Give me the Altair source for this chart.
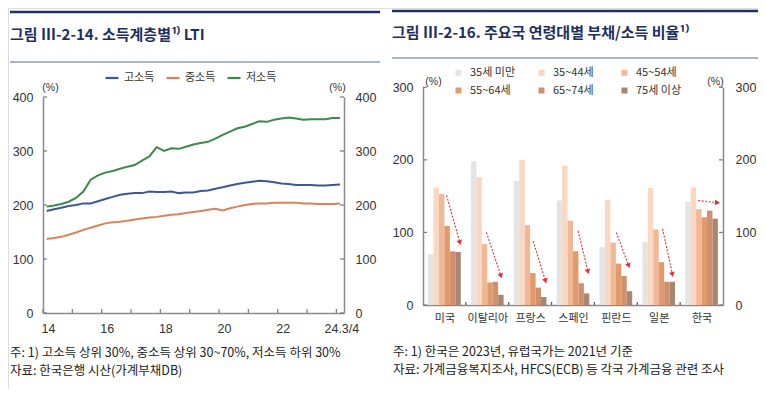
import math
import altair as alt
import pandas as pd

FONT = "Noto Sans CJK KR"
NUMFONT = "Liberation Sans"

# ---------------- left panel: LTI by income class ----------------
quarters = [2014.125 + 0.25 * i for i in range(41)]
high = [189, 192, 195, 198, 200, 203, 203, 207, 211, 215, 219, 221, 222, 222, 225, 224,
        224, 225, 222, 223, 223, 226, 227, 230, 233, 236, 239, 241, 243, 245, 244, 242,
        240, 239, 237, 237, 237, 236, 236, 237, 238]
mid = [137, 139, 141, 145, 149, 154, 158, 162, 166, 168, 169, 171, 173, 175, 177, 178,
       180, 182, 183, 185, 187, 189, 191, 193, 190, 194, 197, 200, 202, 203, 203, 204,
       204, 204, 204, 203, 203, 202, 202, 202, 203]
low = [197, 199, 202, 206, 213, 225, 247, 255, 260, 263, 267, 271, 274, 282, 290, 307,
       300, 305, 304, 308, 312, 315, 317, 323, 330, 336, 342, 345, 350, 355, 354, 358,
       360, 362, 360, 358, 359, 359, 359, 361, 361]
series_names = ["고소득", "중소득", "저소득"]
series_colors = ["#3c5895", "#d8845d", "#3b8a4c"]
year_ticks = list(range(2014, 2025))
year_labels = [2014, 2016, 2018, 2020, 2022, 2024]
left_y_ticks = [0, 100, 200, 300, 400]

# ---------------- right panel: debt/income by age ----------------
countries = ["미국", "이탈리아", "프랑스", "스페인", "핀란드", "일본", "한국"]
ages = ["35세 미만", "35~44세", "45~54세", "55~64세", "65~74세", "75세 이상"]
age_colors = ["#e4e4e4", "#f9d7c0", "#efb896", "#e39a6a", "#cf9070", "#a88670"]
ratios = [
    [70, 162, 153, 109, 74, 73],
    [198, 176, 84, 31, 32, 14],
    [171, 200, 110, 44, 24, 11],
    [144, 192, 116, 74, 30, 16],
    [80, 145, 86, 57, 40, 19],
    [87, 161, 104, 59, 32, 32],
    [142, 162, 132, 121, 130, 119],
]
right_y_ticks = [0, 100, 200, 300]
arrow_x0 = [0.55, 1.48, 2.57, 3.62, 4.51, 5.59, 6.42]
arrow_y0 = [151, 100, 88, 102, 100, 105, 144]
arrow_x1 = [0.86, 1.82, 2.86, 3.85, 4.80, 5.82, 6.87]
arrow_y1 = [86, 40, 33, 46, 54, 42, 141]

# ---------------- geometry (pixels inside the view) ----------------
W, H = 750, 381
L_X = [35, 336]
L_Y = [305, 89]
R_X = [415, 715]
R_Y = [297, 79.3]
L_XDOM = [2014, 2024.26]
L_YDOM = [0, 400]
R_XDOM = [0, 7]
R_YDOM = [0, 300]
TICK_PX = 4

AX = dict(tickSize=0, grid=False, domainColor="#8a8a8a", domainWidth=1.5,
          labelColor="#333333", labelFont=NUMFONT, labelFontSize=12.5,
          titleFont=NUMFONT, titleFontSize=10.5, titleColor="#333333",
          titleFontWeight="normal", titleAngle=0, titleAlign="center",
          titleBaseline="middle")
TICK_COLOR = "#7a7a7a"


def sc(dom, rng):
    return alt.Scale(domain=dom, range=rng, nice=False, zero=False)


def span(dom, rng, px):
    """data units that correspond to px pixels on a linear scale"""
    return (dom[1] - dom[0]) * px / abs(rng[1] - rng[0])


# ---------- left panel ----------
line_df = pd.DataFrame({
    "t": quarters * 3,
    "v": high + mid + low,
    "g": [series_names[0]] * 41 + [series_names[1]] * 41 + [series_names[2]] * 41,
})

lines = alt.Chart(line_df).mark_line(strokeWidth=2).encode(
    x=alt.X("t:Q", scale=sc(L_XDOM, L_X), axis=None),
    y=alt.Y("v:Q", scale=sc(L_YDOM, L_Y), axis=alt.Axis(
        orient="left", offset=-L_X[0], values=left_y_ticks, labelPadding=10,
        title="(%)", titleX=7, titleY=L_Y[1] - 10, **AX)),
    color=alt.Color("g:N", scale=alt.Scale(domain=series_names, range=series_colors),
                    legend=alt.Legend(orient="none", legendX=96, legendY=62,
                                      direction="horizontal", symbolType="stroke",
                                      symbolStrokeWidth=2.2, symbolSize=170, title=None,
                                      labelFont=FONT, labelFontSize=11, labelColor="#333333",
                                      labelOffset=4, columnPadding=7, padding=0)),
)

# dual (right) y axis of the left panel, drawn with its inward ticks
lx_t = span(L_XDOM, L_X, TICK_PX)
ly_t = span(L_YDOM, L_Y, TICK_PX)
lyt_df = pd.DataFrame({"v": left_y_ticks * 2,
                       "a": [L_XDOM[0]] * 5 + [L_XDOM[1] - lx_t] * 5,
                       "b": [L_XDOM[0] + lx_t] * 5 + [L_XDOM[1]] * 5})
left_yticks = alt.Chart(lyt_df).mark_rule(color=TICK_COLOR, strokeWidth=1.2).encode(
    x=alt.X("a:Q", scale=sc(L_XDOM, L_X), axis=None), x2="b:Q",
    y=alt.Y("v:Q", scale=sc(L_YDOM, L_Y), axis=alt.Axis(
        orient="right", offset=-(W - L_X[1]), values=left_y_ticks, labelPadding=11,
        title="(%)", titleX=-7, titleY=L_Y[1] - 10, **AX)),
)

lxt_df = pd.DataFrame({"yr": year_ticks, "lo": [0] * len(year_ticks),
                       "hi": [ly_t] * len(year_ticks)})
left_x = alt.Chart(lxt_df).mark_rule(color=TICK_COLOR, strokeWidth=1.2).encode(
    x=alt.X("yr:Q", scale=sc(L_XDOM, L_X), axis=alt.Axis(
        orient="bottom", offset=-(H - L_Y[0]), values=year_labels, labelOffset=5,
        labelPadding=9, title=None, labelFlush=False,
        labelExpr="datum.value >= 2024 ? '24.3/4' : '' + (datum.value - 2000)", **AX)),
    y=alt.Y("lo:Q", scale=sc(L_YDOM, L_Y), axis=None),
    y2="hi:Q",
)

# ---------- right panel ----------
bw = 0.127
rows = []
for gi, c in enumerate(countries):
    for k, a in enumerate(ages):
        x0 = gi + 0.5 + (k - 3) * bw
        rows.append({"c": c, "age": a, "x0": x0, "x1": x0 + bw, "v": ratios[gi][k], "z": 0})
bar_df = pd.DataFrame(rows)

center_vals = [i + 0.5 for i in range(len(countries))]
label_expr = "[" + ",".join("'" + c + "'" for c in countries) + "][floor(datum.value)]"

bars = alt.Chart(bar_df).mark_bar(strokeWidth=0).encode(
    x=alt.X("x0:Q", scale=sc(R_XDOM, R_X), axis=alt.Axis(
        orient="bottom", offset=-(H - R_Y[0]), values=center_vals, labelExpr=label_expr,
        labelPadding=7, title=None, **{**AX, "labelFontSize": 11, "labelFont": FONT})),
    x2="x1:Q",
    y=alt.Y("v:Q", scale=sc(R_YDOM, R_Y), axis=alt.Axis(
        orient="left", offset=-R_X[0], values=right_y_ticks, labelPadding=10,
        title="(%)", titleX=10, titleY=R_Y[1] - 6, **AX)),
    y2="z:Q",
    color=alt.Color("age:N", scale=alt.Scale(domain=ages, range=age_colors),
                    legend=alt.Legend(orient="none", legendX=445, legendY=59, columns=3,
                                      direction="horizontal",
                                      symbolType="square", symbolSize=36, symbolStrokeWidth=0,
                                      gridAlign="all", columnPadding=20, rowPadding=6,
                                      title=None, labelFont=FONT, labelFontSize=11,
                                      labelColor="#333333", labelOffset=6, padding=0)),
)

rx_t = span(R_XDOM, R_X, TICK_PX)
ry_t = span(R_YDOM, R_Y, 3)
ryt_df = pd.DataFrame({"v": right_y_ticks * 2,
                       "a": [R_XDOM[0]] * 4 + [R_XDOM[1] - rx_t] * 4,
                       "b": [R_XDOM[0] + rx_t] * 4 + [R_XDOM[1]] * 4})
right_yticks = alt.Chart(ryt_df).mark_rule(color=TICK_COLOR, strokeWidth=1.2).encode(
    x=alt.X("a:Q", scale=sc(R_XDOM, R_X), axis=None), x2="b:Q",
    y=alt.Y("v:Q", scale=sc(R_YDOM, R_Y), axis=alt.Axis(
        orient="right", offset=-(W - R_X[1]), values=right_y_ticks, labelPadding=12,
        title="(%)", titleX=-8, titleY=R_Y[1] - 6, **AX)),
)
rxt_df = pd.DataFrame({"g": list(range(1, len(countries))),
                       "lo": [0] * (len(countries) - 1),
                       "hi": [ry_t] * (len(countries) - 1)})
right_xticks = alt.Chart(rxt_df).mark_rule(color="#555555", strokeWidth=1.2).encode(
    x=alt.X("g:Q", scale=sc(R_XDOM, R_X), axis=None),
    y=alt.Y("lo:Q", scale=sc(R_YDOM, R_Y), axis=None), y2="hi:Q")

# arrows
px_per_x = (R_X[1] - R_X[0]) / 7
px_per_y = (R_Y[0] - R_Y[1]) / 300
angles = []
for a0, b0, a1, b1 in zip(arrow_x0, arrow_y0, arrow_x1, arrow_y1):
    dx = (a1 - a0) * px_per_x
    dy = -(b1 - b0) * px_per_y  # screen y grows downward
    angles.append(math.degrees(math.atan2(dx, -dy)) % 360)
arrow_df = pd.DataFrame({"ax0": arrow_x0, "ay0": arrow_y0, "ax1": arrow_x1,
                         "ay1": arrow_y1, "ang": angles})
RED = "#e3303c"
arrow_lines = alt.Chart(arrow_df).mark_rule(color=RED, strokeWidth=1.1,
                                            strokeDash=[2, 1.5]).encode(
    x=alt.X("ax0:Q", scale=sc(R_XDOM, R_X), axis=None), x2="ax1:Q",
    y=alt.Y("ay0:Q", scale=sc(R_YDOM, R_Y), axis=None), y2="ay1:Q")
arrow_heads = alt.Chart(arrow_df).mark_point(shape="triangle-up", filled=True, size=32,
                                             color=RED, opacity=1).encode(
    x=alt.X("ax1:Q", scale=sc(R_XDOM, R_X), axis=None),
    y=alt.Y("ay1:Q", scale=sc(R_YDOM, R_Y), axis=None),
    angle=alt.Angle("ang:Q", scale=None))
arrows = alt.layer(arrow_lines, arrow_heads)

# ---------- titles, rules and notes ----------
one = pd.DataFrame({"k": [0]})
NAVY = "#1d2f5e"


def text(txt, x, y, size, weight="normal", color="#222222"):
    return alt.Chart(one).mark_text(text=txt, align="left", baseline="middle", fontSize=size,
                                    fontWeight=weight, font=FONT, color=color).encode(
        x=alt.value(x), y=alt.value(y))


def hline(x1, x2, y, w, color):
    return alt.Chart(one).mark_rule(strokeWidth=w, color=color).encode(
        x=alt.value(x1), x2=alt.value(x2), y=alt.value(y))


decor = [
    hline(2, 372, 4, 2.5, NAVY),
    hline(384, 752, 3, 2.5, NAVY),
    hline(2, 372, 54, 1, "#5a6a92"),
    hline(384, 752, 50, 1, "#5a6a92"),
    text("그림 Ⅲ-2-14. 소득계층별¹⁾ LTI", 2, 27, 15, "bold", NAVY),
    text("그림 Ⅲ-2-16. 주요국 연령대별 부채/소득 비율¹⁾", 384, 25, 15, "bold", NAVY),
    text("주: 1) 고소득 상위 30%, 중소득 상위 30~70%, 저소득 하위 30%", 2, 345, 12.5),
    text("자료: 한국은행 시산(가계부채DB)", 2, 363, 12.5),
    text("주: 1) 한국은 2023년, 유럽국가는 2021년 기준", 385, 344, 12.5),
    text("자료: 가계금융복지조사, HFCS(ECB) 등 각국 가계금융 관련 조사", 385, 362, 12.5),
]

chart = alt.layer(lines, left_yticks, left_x, bars, right_yticks, right_xticks, arrows,
                  *decor).resolve_scale(
    x="independent", y="independent", color="independent"
).properties(width=W, height=H, autosize="none", padding=0).configure_view(
    stroke=None).configure(font=FONT, background="white")

chart.save("out.html", embed_options={"renderer": "svg", "actions": False})
